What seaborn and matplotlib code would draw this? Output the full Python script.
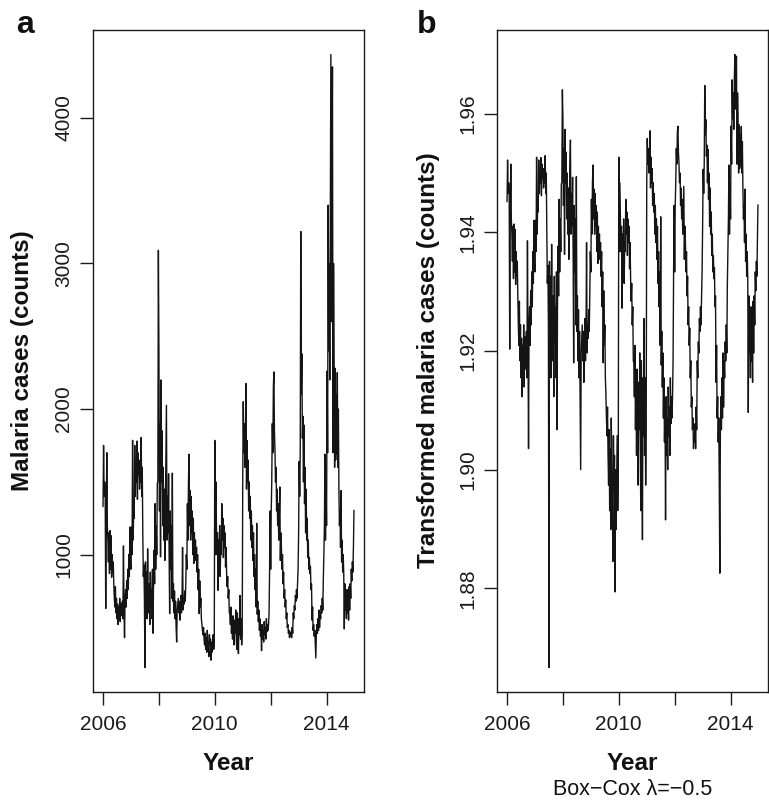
import numpy as np
import pandas as pd
import matplotlib
matplotlib.use("Agg")
import matplotlib.pyplot as plt
import seaborn as sns

# ---- data (weekly malaria case counts) ----
start_year = 2006
weeks_per_year = 52

cases_2006 = [1330, 1750, 1400, 1500, 1450, 630, 1250, 1700, 1200, 1100, 950, 1150,
              870, 1165, 900, 1130, 845, 1000, 880, 950, 800, 700, 640, 780,
              600, 700, 560, 660, 520, 640, 560, 700, 540, 665, 600, 580,
              680, 560, 1060, 620, 430, 700, 760, 640, 820, 700, 900, 760,
              1000, 850, 1190, 950]
cases_2007 = [900, 1190, 1000, 1785, 1100, 1300, 1250, 1750, 1400, 1600, 1500, 1780,
              1380, 1700, 1550, 1650, 1450, 1600, 1500, 1805, 1400, 1600, 1145, 850,
              930, 700, 225, 950, 620, 880, 560, 1040, 700, 600, 800, 520,
              880, 650, 760, 560, 900, 460, 820, 1030, 800, 1350, 900, 1200,
              1000, 1490, 1500, 3090]
cases_2008 = [2400, 1300, 1900, 985, 2200, 1500, 1850, 1200, 1600, 1100, 1450, 960,
              1300, 1700, 2025, 1100, 1400, 1150, 1555, 1000, 595, 1300, 900, 1200,
              700, 1560, 680, 800, 600, 750, 560, 680, 500, 400, 620, 660,
              700, 600, 680, 550, 640, 720, 600, 680, 1050, 620, 700, 660,
              750, 680, 800, 1000]
cases_2009 = [900, 1350, 1100, 1500, 1690, 1200, 1440, 1100, 1400, 1150, 1300, 1000,
              1250, 940, 1150, 1000, 1100, 960, 1050, 880, 1000, 760, 900, 595,
              820, 640, 700, 560, 525, 480, 450, 500, 420, 380, 460, 350,
              430, 330, 480, 400, 360, 300, 450, 380, 420, 275, 400, 330,
              380, 450, 350, 400]
cases_2010 = [1785, 1000, 1500, 1190, 1000, 1150, 755, 1100, 900, 1200, 850, 1050,
              1000, 1350, 1100, 1250, 980, 1200, 1050, 1150, 915, 1050, 870, 780,
              850, 700, 760, 600, 595, 520, 640, 460, 560, 420, 580, 500,
              380, 550, 460, 620, 420, 350, 600, 480, 320, 560, 450, 720,
              420, 560, 380, 470]
cases_2011 = [1500, 2050, 1700, 1900, 1600, 1750, 2175, 1450, 1785, 1500, 1650, 1300,
              1500, 1250, 1400, 1100, 1300, 1050, 1200, 960, 1150, 850, 1000, 760,
              900, 640, 1215, 590, 680, 540, 620, 480, 560, 440, 500, 340,
              520, 420, 480, 400, 540, 450, 500, 420, 560, 470, 520, 480,
              520, 600, 900, 1300]
cases_2012 = [900, 1300, 1500, 1900, 1700, 2150, 2255, 1850, 1715, 1500, 1600, 1300,
              1450, 1200, 1350, 1100, 1250, 1465, 960, 1150, 1050, 900, 1000, 800,
              880, 700, 760, 640, 690, 560, 600, 500, 520, 460, 480, 430,
              450, 440, 470, 430, 500, 460, 600, 560, 650, 620, 720, 680,
              760, 700, 800, 900]
cases_2013 = [1150, 1640, 1400, 1700, 3220, 2100, 2380, 1800, 1950, 1500, 1890, 1350,
              1600, 1150, 1450, 1100, 1250, 980, 1100, 900, 980, 870, 920, 760,
              800, 550, 640, 480, 520, 440, 480, 380, 290, 450, 520, 460,
              560, 480, 620, 500, 600, 560, 650, 600, 700, 620, 840, 1000,
              1200, 1690, 1100, 1500]
cases_2014 = [1200, 2260, 1700, 3400, 2400, 3000, 2200, 3350, 4435, 2600, 3680, 4350,
              1700, 3000, 2380, 1600, 2280, 1650, 2100, 1690, 2250, 1600, 2000, 1440,
              1200, 1305, 1050, 1440, 950, 1100, 880, 1000, 870, 490, 800, 620,
              700, 560, 760, 600, 650, 550, 780, 620, 800, 700, 900, 820,
              950, 880, 1050, 1305]

boxcox_lambda = -0.5

x_ticks = [2006, 2008, 2010, 2012, 2014]
x_tick_labels = ["2006", "", "2010", "", "2014"]
left_y_ticks = [1000, 2000, 3000, 4000]
left_y_tick_labels = ["1000", "2000", "3000", "4000"]
right_y_ticks = [1.88, 1.90, 1.92, 1.94, 1.96]
right_y_tick_labels = ["1.88", "1.90", "1.92", "1.94", "1.96"]

# ---- build table ----
cases = np.concatenate([cases_2006, cases_2007, cases_2008, cases_2009, cases_2010,
                        cases_2011, cases_2012, cases_2013, cases_2014]).astype(float)
time = start_year + np.arange(len(cases)) / weeks_per_year
transformed = (cases ** boxcox_lambda - 1.0) / boxcox_lambda
df = pd.DataFrame({"Year": time, "cases": cases, "transformed": transformed})

sns.set_style("ticks")
plt.rcParams["font.family"] = ["Liberation Sans", "DejaVu Sans"]

W, H = 769, 801
fig = plt.figure(figsize=(W / 100, H / 100), dpi=100)
ax1 = fig.add_axes([93 / W, 109 / H, 271 / W, 662 / H])
ax2 = fig.add_axes([497 / W, 109 / H, 271 / W, 662 / H])

line_color = "#141414"
for ax, col, yt, ytl in [(ax1, "cases", left_y_ticks, left_y_tick_labels),
                         (ax2, "transformed", right_y_ticks, right_y_tick_labels)]:
    sns.lineplot(data=df, x="Year", y=col, ax=ax, color=line_color, linewidth=1.0,
                 estimator=None, sort=False)
    xv, yv = df["Year"].values, df[col].values
    xr, yr = xv.max() - xv.min(), yv.max() - yv.min()
    ax.set_xlim(xv.min() - 0.04 * xr, xv.max() + 0.04 * xr)
    ax.set_ylim(yv.min() - 0.04 * yr, yv.max() + 0.04 * yr)
    ax.set_xticks(x_ticks, x_tick_labels)
    ax.set_yticks(yt, ytl)
    ax.set_xlabel("")
    ax.set_ylabel("")
    ax.tick_params(direction="out", length=9.4, width=1.0, labelsize=15,
                   colors="#1a1a1a", pad=7)
    ax.tick_params(axis="y", pad=5)
    for lab in ax.get_yticklabels():
        lab.set_rotation(90)
        lab.set_va("center")
    for s in ax.spines.values():
        s.set_visible(True)
        s.set_linewidth(1.0)
        s.set_color("#1a1a1a")
    ax.grid(False)

bold = dict(fontweight="bold", color="#111111")
fig.text(25 / W, 1 - 33 / H, "a", fontsize=23, ha="center", va="baseline", **bold)
fig.text(427 / W, 1 - 33 / H, "b", fontsize=23, ha="center", va="baseline", **bold)

fig.text(23 / W, 1 - 361 / H, "Malaria cases (counts)", rotation=90, fontsize=17.5,
         ha="center", va="center", **bold)
fig.text(429 / W, 1 - 360 / H, "Transformed malaria cases (counts)", rotation=90,
         fontsize=17.5, ha="center", va="center", **bold)

fig.text(228.5 / W, 1 - 770 / H, "Year", fontsize=17.5, ha="center", va="baseline", **bold)
fig.text(632.5 / W, 1 - 770 / H, "Year", fontsize=17.5, ha="center", va="baseline", **bold)
fig.text(632.5 / W, 1 - 795 / H, "Box\u2212Cox \u03bb=\u22120.5", fontsize=15.5,
         ha="center", va="baseline", color="#111111")

fig.savefig("out.png", dpi=100)
